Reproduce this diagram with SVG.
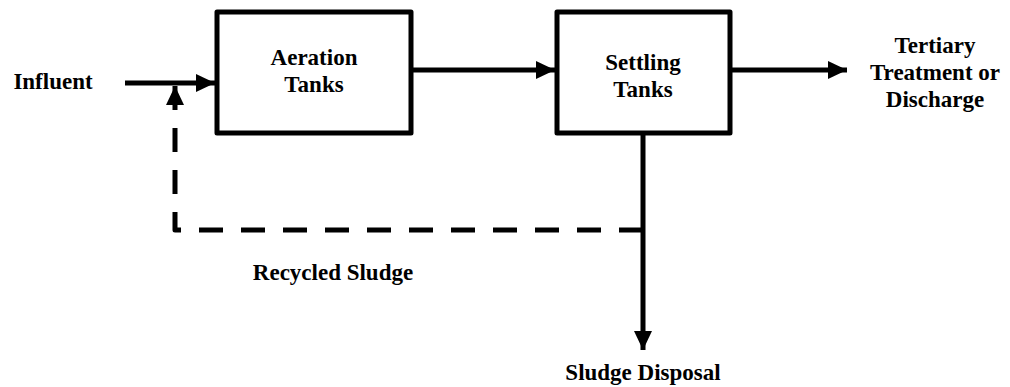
<svg xmlns="http://www.w3.org/2000/svg" width="1010" height="387" viewBox="0 0 1010 387">
<style>
.box{fill:#fff;stroke:#000;stroke-width:5;stroke-linejoin:round}
.t{font-family:"Liberation Serif","Times New Roman",serif;font-weight:bold;font-size:23px;fill:#000;text-anchor:middle}
.ln{fill:none;stroke:#000;stroke-width:5}
.dash{fill:none;stroke:#000;stroke-width:5;stroke-dasharray:24 18;stroke-linejoin:round}
</style>
<defs>
<marker id="ah" markerWidth="20" markerHeight="20" viewBox="0 0 20 20" refX="19" refY="10" orient="auto" markerUnits="userSpaceOnUse">
<path d="M0,1 L19,10 L0,19 Z" fill="#000"/>
</marker>
</defs>
<g id="connectors">
<path class="ln" d="M125,83 L215,83" marker-end="url(#ah)"/>
<path class="ln" d="M411,70 L555,70" marker-end="url(#ah)"/>
<path class="ln" d="M730,70 L847,70" marker-end="url(#ah)"/>
<path class="ln" d="M643,133 L643,350" marker-end="url(#ah)"/>
<path class="dash" d="M643,230 L175,230 L175,104"/>
<path class="ln" d="M175,104 L175,86" marker-end="url(#ah)"/>
</g>
<g id="aeration">
<rect class="box" x="217" y="12" width="194" height="121"/>
<text class="t" x="314" y="65">Aeration</text>
<text class="t" x="314" y="92">Tanks</text>
</g>
<g id="settling">
<rect class="box" x="557" y="12" width="173" height="121"/>
<text class="t" x="643" y="70">Settling</text>
<text class="t" x="643" y="97">Tanks</text>
</g>
<g id="influent">
<text class="t" x="53" y="89">Influent</text>
</g>
<g id="tertiary">
<text class="t" x="935" y="53">Tertiary</text>
<text class="t" x="935" y="80">Treatment or</text>
<text class="t" x="935" y="107">Discharge</text>
</g>
<g id="recycled">
<text class="t" x="333" y="280">Recycled Sludge</text>
</g>
<g id="disposal">
<text class="t" x="643" y="380">Sludge Disposal</text>
</g>
</svg>
